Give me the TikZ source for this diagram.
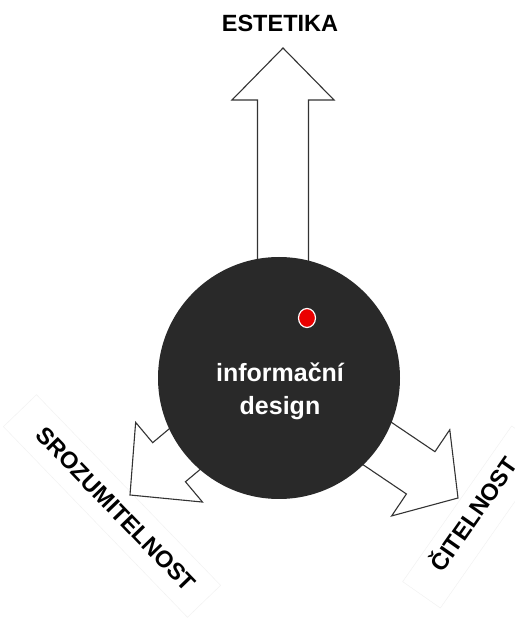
\documentclass[tikz,border=0pt]{standalone}
\usepackage{fontspec}
\setmainfont{Liberation Sans}
\begin{document}
\begin{tikzpicture}[x=1pt,y=1pt,
  arrowline/.style={draw=black!80, line width=1.1pt, fill=white, line join=miter},
  lbl/.style={font=\fontsize{23.5}{28}\selectfont\bfseries, text=black, inner sep=0pt},
  inner/.style={font=\fontsize{25}{33}\selectfont\bfseries, text=white, inner sep=0pt, anchor=base},
  strip/.style={draw=black!6, line width=0.4pt, fill=white, minimum height=46pt, inner sep=0pt}
]
\useasboundingbox (0,0) rectangle (515,625);
\fill[white] (0,0) rectangle (515,625);

% label strips (faint pasted paper)
\node[strip, minimum width=265pt, rotate=-46] (srozstrip) at (112,119) {};
\node[strip, minimum width=190pt, rotate=55] (citstrip) at (476,108) {};

% block arrows
\begin{scope}[shift={(283,577)}, rotate=90]
  \draw[arrowline] (0,0) -- (-52,51) -- (-52,25.5) -- (-320,25.5) -- (-320,-25.5) -- (-52,-25.5) -- (-52,-51) -- cycle;
\end{scope}
\begin{scope}[shift={(130,130)}, rotate=220]
  \draw[arrowline] (0,0) -- (-51,52) -- (-51,25.5) -- (-180,25.5) -- (-180,-25.5) -- (-51,-25.5) -- (-51,-52) -- cycle;
\end{scope}
\begin{scope}[shift={(458,127)}, rotate=-34]
  \draw[arrowline] (0,0) -- (-45,52) -- (-45,25.5) -- (-200,25.5) -- (-200,-25.5) -- (-45,-25.5) -- (-45,-52) -- cycle;
\end{scope}

% central disc
\node[circle, fill=black!84, minimum size=242pt, inner sep=0pt] (core) at (279,247) {};
\draw[white, line width=1.2pt, fill={rgb,255:red,235;green,0;blue,0}] (307,307) ellipse (8.5 and 9.5);
\node[inner] (t1) at (280,243) {informační};
\node[inner] (t2) at (280,210) {design};

% labels
\node[lbl, anchor=base] (estetika) at (280,593) {ESTETIKA};
\node[lbl, rotate=-46] (sroz) at (116,116) {SROZUMITELNOST};
\node[lbl, rotate=55] (cit) at (472,112) {ČITELNOST};
\end{tikzpicture}
\end{document}
